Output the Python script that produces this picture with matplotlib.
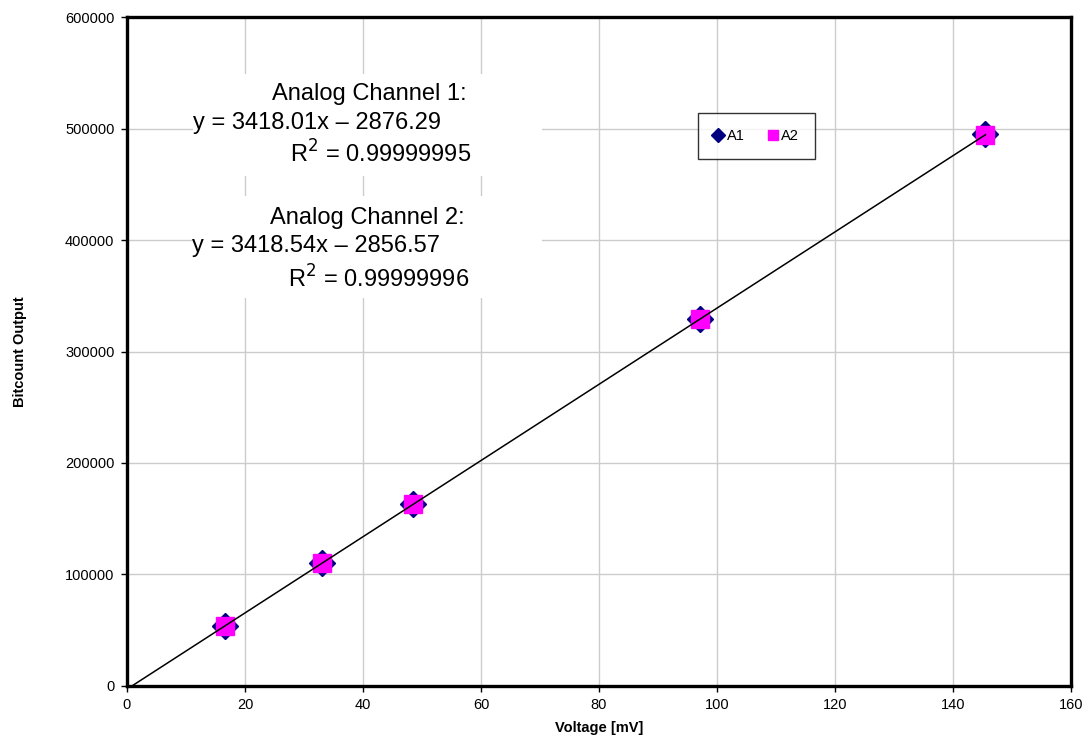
import numpy as np
import matplotlib
matplotlib.use("Agg")
import matplotlib.pyplot as plt
from matplotlib.patches import Rectangle

plt.rcParams['font.family'] = ['Liberation Sans', 'DejaVu Sans']

# measured points (voltage in mV, bitcount)
voltage = [16.6, 33.1, 48.5, 97.1, 145.5]
a1_counts = [54000, 110000, 163000, 329000, 495000]
a2_counts = [54200, 110100, 163100, 329100, 494600]

# trendline coefficients as reported on the chart
a1_slope, a1_offset = 3418.01, -2876.29
x_ticks = [0, 20, 40, 60, 80, 100, 120, 140, 160]
y_ticks = [0, 100000, 200000, 300000, 400000, 500000, 600000]

fig = plt.figure(figsize=(10.86, 7.47), dpi=100)
ax = fig.add_axes([0.1169, 0.0817, 0.8693, 0.8955])

ax.set_xlim(0, 160)
ax.set_ylim(0, 600000)
ax.set_xticks(x_ticks)
ax.set_yticks(y_ticks)
ax.set_xticklabels([str(t) for t in x_ticks])
ax.set_yticklabels([str(t) for t in y_ticks])
ax.tick_params(labelsize=10.5, direction='out', length=4, width=1, pad=5)
ax.grid(True, color='#cccccc', linewidth=1)
ax.set_axisbelow(True)
for s in ax.spines.values():
  s.set_linewidth(2.4)

ax.plot(voltage, a1_counts, linestyle='none', marker='D', ms=13.5, color='#000080', zorder=3, label='A1')
ax.plot(voltage, a2_counts, linestyle='none', marker='s', ms=13.5, color='#ff00ff', zorder=4, label='A2')

# linear fit line, from where it crosses zero to the last point
x_start = -a1_offset / a1_slope
fit_x = np.array([x_start, max(voltage)])
ax.plot(fit_x, a1_slope * fit_x + a1_offset, color='black', linewidth=1.1, zorder=5)

ax.set_xlabel('Voltage [mV]', fontsize=10.5, fontweight='bold', labelpad=6)
ax.set_ylabel('Bitcount Output', fontsize=10.5, fontweight='bold')
ax.yaxis.set_label_coords(-0.106, 0.5)

leg = ax.legend(loc='upper left', bbox_to_anchor=(0.597, 0.868), ncol=2, fontsize=10.5,
                frameon=True, fancybox=False, edgecolor='black', borderpad=1.1,
                handlelength=0.6, handletextpad=0.3, columnspacing=1.6, markerscale=0.5)
leg.get_frame().set_linewidth(1)

# white boxes under the fit equations
for y0 in [0.763, 0.58]:
  ax.add_patch(Rectangle((0.07, y0), 0.37, 0.152, transform=ax.transAxes,
                         facecolor='white', edgecolor='none', zorder=2))

txt = dict(transform=ax.transAxes, fontsize=17, va='center', zorder=6)
ax.text(0.360, 0.885, 'Analog Channel 1:', ha='right', **txt)
ax.text(0.070, 0.841, 'y = 3418.01x \u2013 2876.29', ha='left', **txt)
ax.text(0.365, 0.795, 'R$^2$ = 0.99999995', ha='right', **txt)
ax.text(0.358, 0.699, 'Analog Channel 2:', ha='right', **txt)
ax.text(0.069, 0.657, 'y = 3418.54x \u2013 2856.57', ha='left', **txt)
ax.text(0.363, 0.608, 'R$^2$ = 0.99999996', ha='right', **txt)

fig.savefig('out.png', dpi=100)
